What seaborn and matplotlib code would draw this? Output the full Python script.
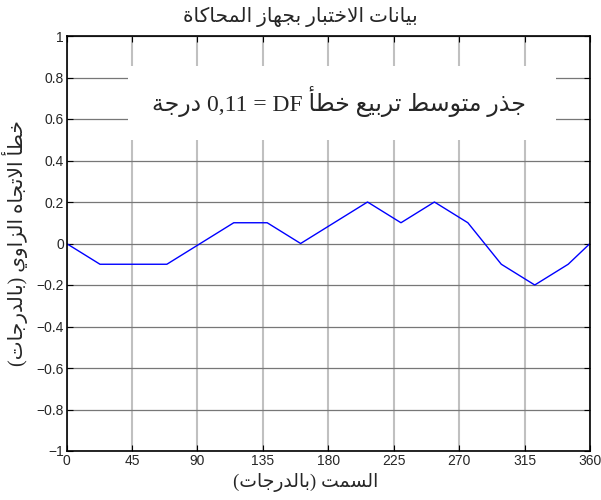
import re
import unicodedata

import matplotlib
matplotlib.use("Agg")
import matplotlib.pyplot as plt
import seaborn as sns
import pandas as pd

# ---------------------------------------------------------------------------
# Data
# ---------------------------------------------------------------------------
azimuth = [0, 23, 46, 69, 92, 115, 138, 161, 184, 207, 230, 253, 276, 299, 322, 345, 360]
df_error = [0, -0.1, -0.1, -0.1, 0, 0.1, 0.1, 0, 0.1, 0.2, 0.1, 0.2, 0.1, -0.1, -0.2, -0.1, 0]

x_ticks = [0, 45, 90, 135, 180, 225, 270, 315, 360]
y_ticks = [-1, -0.8, -0.6, -0.4, -0.2, 0, 0.2, 0.4, 0.6, 0.8, 1]

title_txt = "بيانات الاختبار بجهاز المحاكاة"
xlabel_txt = "السمت (بالدرجات)"
ylabel_txt = "خطأ الاتجاه الزاوي (بالدرجات)"
rms_txt = "جذر متوسط تربيع خطأ DF = 0,11 درجة"


# ---------------------------------------------------------------------------
# Arabic shaping (matplotlib has no complex text layout)
# ---------------------------------------------------------------------------
def _forms():
    forms, ligs = {}, {}
    for cp in range(0xFE80, 0xFEFD):
        dec = unicodedata.decomposition(chr(cp)).split()
        if not dec or not dec[0].startswith("<"):
            continue
        tag = dec[0][1:-1]
        base = "".join(chr(int(h, 16)) for h in dec[1:])
        if len(base) == 1:
            forms.setdefault(base, {})[tag] = chr(cp)
        else:
            ligs.setdefault(base, {})[tag] = chr(cp)
    return forms, ligs


FORMS, LIGS = _forms()


def _dual(c):
    return c in FORMS and "initial" in FORMS[c]


def _joinable(c):
    return c in FORMS and "final" in FORMS[c]


def shape_ar(text):
    out = []
    i, n = 0, len(text)
    while i < n:
        c = text[i]
        prev = text[i - 1] if i > 0 else ""
        if c == "\u0644" and i + 1 < n and (c + text[i + 1]) in LIGS:
            lig = LIGS[c + text[i + 1]]
            out.append(lig["final"] if _dual(prev) else lig["isolated"])
            i += 2
            continue
        if c not in FORMS:
            out.append(c)
            i += 1
            continue
        nxt = text[i + 1] if i + 1 < n else ""
        jp = _dual(prev) and _joinable(c)
        jn = _dual(c) and _joinable(nxt)
        tag = "medial" if jp and jn else "final" if jp else "initial" if jn else "isolated"
        out.append(FORMS[c].get(tag, c))
        i += 1
    return "".join(out)


def ar(text):
    vis = shape_ar(text)[::-1].translate(str.maketrans("()", ")("))
    return re.sub(r"[A-Za-z0-9][A-Za-z0-9.,]*", lambda m: m.group(0)[::-1], vis)


# ---------------------------------------------------------------------------
# Plot
# ---------------------------------------------------------------------------
sns.set_theme(style="ticks")
plt.rcParams["font.family"] = ["Liberation Serif", "DejaVu Sans"]
tick_font = ["Liberation Sans Narrow", "Liberation Sans", "DejaVu Sans"]

fig = plt.figure(figsize=(6.01, 5.0), dpi=100)
ax = fig.add_axes([0.1107, 0.098, 0.871, 0.830])

data = pd.DataFrame({"azimuth": azimuth, "error": df_error})
sns.lineplot(data=data, x="azimuth", y="error", color="#0000ff", lw=1.0, ax=ax)

ax.set_xlim(x_ticks[0], x_ticks[-1])
ax.set_ylim(y_ticks[0], y_ticks[-1])
ax.set_xticks(x_ticks)
ax.set_yticks(y_ticks)
ax.set_xticklabels([str(v) for v in x_ticks], family=tick_font, fontsize=10)
ax.set_yticklabels([f"{v:g}".replace("-", "\u2212") for v in y_ticks],
                   family=tick_font, fontsize=10)
ax.tick_params(direction="in", length=4, width=0.8, color="black",
               top=True, right=True, pad=2)

ax.xaxis.grid(True, color="#c0c0c0", lw=1.5)
ax.yaxis.grid(True, color="#777777", lw=0.9)
ax.set_axisbelow(True)
for sp in ax.spines.values():
    sp.set_color("black")
    sp.set_linewidth(1.2)

# white panel holding the RMS text
ax.add_patch(plt.Rectangle((0.1175, 0.749), 0.8175, 0.179, transform=ax.transAxes,
                           facecolor="white", edgecolor="none", zorder=1.5))
ax.text(0.52, 0.843, ar(rms_txt), transform=ax.transAxes, ha="center",
        va="center", fontsize=17, zorder=3)

# title and x label sit near the figure centre, left of the axes centre
ax.set_title(ar(title_txt), fontsize=14.5, x=0.447, pad=10)
ax.set_xlabel(ar(xlabel_txt), fontsize=13.5)
ax.xaxis.set_label_coords(0.457, -0.052)
ax.set_ylabel(ar(ylabel_txt), fontsize=14.5, labelpad=6)

fig.savefig("out.png", dpi=100)
